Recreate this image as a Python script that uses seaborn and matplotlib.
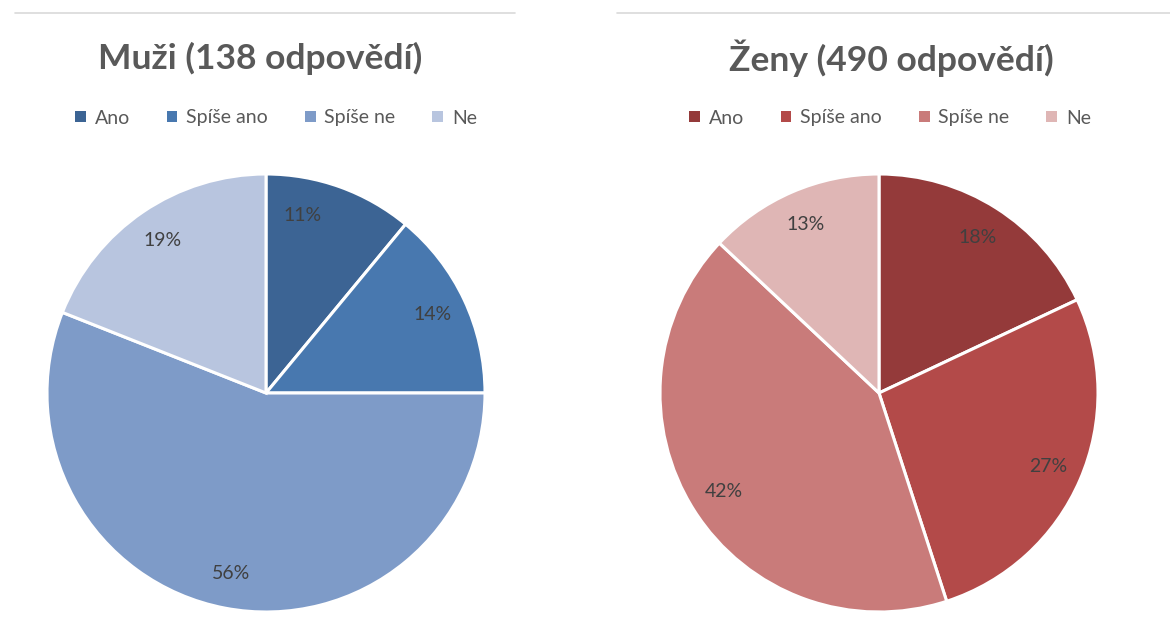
import matplotlib
matplotlib.use("Agg")
import matplotlib.pyplot as plt
from matplotlib.patches import Patch
from matplotlib.lines import Line2D
import seaborn as sns

categories = ["Ano", "Spíše ano", "Spíše ne", "Ne"]
muzi_values = [11, 14, 56, 19]
zeny_values = [18, 27, 42, 13]
muzi_title = "Muži (138 odpovědí)"
zeny_title = "Ženy (490 odpovědí)"
muzi_colors = ["#3C6494", "#4878AF", "#7E9BC8", "#B8C5DF"]
zeny_colors = ["#943A3A", "#B34A49", "#C97B7A", "#DFB6B5"]

sns.set_theme(style="white")
plt.rcParams['font.family'] = ['Lato', 'DejaVu Sans']

W, H = 1170, 637
fig = plt.figure(figsize=(W / 100, H / 100), dpi=100)
fig.patch.set_facecolor("white")

TEXT = "#595959"
R = 219

def draw(cx, values, colors, title, title_cx, legend_cx, line_x0, line_x1):
    ax = fig.add_axes([(cx - R) / W, (H - 393 - R) / H, 2 * R / W, 2 * R / H])
    wedges, texts, autotexts = ax.pie(
        values, colors=colors, startangle=90, counterclock=False,
        autopct=lambda p: f"{p:.0f}%", pctdistance=0.84,
        wedgeprops=dict(edgecolor="white", linewidth=2.2),
        textprops=dict(color="#404040", fontsize=14))
    ax.set_xlim(-1, 1)
    ax.set_ylim(-1, 1)
    ax.set_aspect("auto")
    ax.axis("off")
    fig.text(title_cx / W, 1 - 58 / H, title, ha="center", va="center",
             fontsize=25.5, fontweight="bold", color=TEXT)
    handles = [Patch(facecolor=c, edgecolor="none") for c in colors]
    fig.legend(handles, categories, loc="center", ncol=4,
               bbox_to_anchor=(legend_cx / W, 1 - 118 / H), frameon=False,
               handlelength=0.55, handleheight=0.55, handletextpad=0.45,
               columnspacing=1.9, fontsize=14, labelcolor=TEXT)
    fig.add_artist(Line2D([line_x0 / W, line_x1 / W], [1 - 13 / H, 1 - 13 / H],
                          color="#D9D9D9", linewidth=1.2))
    return autotexts

mt = draw(266, muzi_values, muzi_colors, muzi_title, 260, 276, 15, 515)
draw(879, zeny_values, zeny_colors, zeny_title, 891, 890, 617, 1170)

# the small first slice label sits nearer the slice's vertical edge, as in the source
x, y = mt[0].get_position()
mt[0].set_position((x - 0.12, y + 0.02))

fig.savefig("out.png", dpi=100, facecolor="white")
